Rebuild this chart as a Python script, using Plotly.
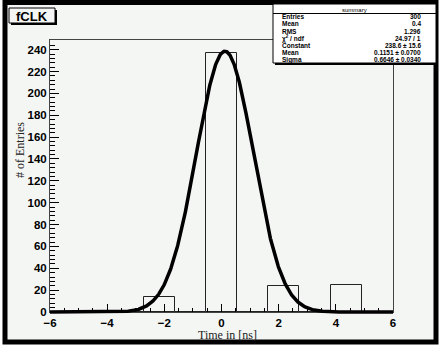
import numpy as np
import plotly.graph_objects as go

# ---- data ----
bin_edges_range = [-6.0, 6.0]
n_bins = 11
counts = [0, 0, 0, 14, 0, 237, 0, 24, 0, 25, 0]

# drawn gaussian curve (peak height, centre, width)
curve_peak = 238.6
curve_center = 0.12
curve_width = 1.0

stats_title = "summary"
stats_labels = ["Entries", "Mean", "RMS", "χ<sup>2</sup> / ndf", "Constant", "Mean", "Sigma"]
stats_values = ["300", "0.4", "1.296", "24.97 / 1", "238.6 ± 15.6", "0.1151 ± 0.0700", "0.6646 ± 0.0340"]

hist_title = "fCLK"
x_title = "Time in [ns]"
y_title = "# of Entries"
x_ticks = [-6, -4, -2, 0, 2, 4, 6]
y_ticks = [0, 20, 40, 60, 80, 100, 120, 140, 160, 180, 200, 220, 240]

# ---- layout geometry (pixels) ----
W, H = 443, 350
L, R, T, B = 50, 393, 40, 315   # plot area incl. 3px extension below axis
Y0 = 312                        # pixel of y = 0
ymax = 1.05 * max(counts)

def px(x):
    return (x - L) / (R - L)

def py(y):
    return (B - y) / (B - T)

edges = np.linspace(bin_edges_range[0], bin_edges_range[1], n_bins + 1)
centers = 0.5 * (edges[:-1] + edges[1:])
bw = edges[1] - edges[0]

xf = np.linspace(bin_edges_range[0], bin_edges_range[1], 801)
yf = curve_peak * np.exp(-0.5 * ((xf - curve_center) / curve_width) ** 2)

bg = "#f4f6f4"
fig = go.Figure()
fig.add_trace(go.Bar(x=centers, y=counts, width=bw,
                     marker=dict(color="rgba(0,0,0,0)", line=dict(color="#222", width=1)),
                     xaxis="x", yaxis="y", showlegend=False, hoverinfo="skip"))
fig.add_trace(go.Scatter(x=xf, y=yf, mode="lines", line=dict(color="black", width=3.5),
                         xaxis="x2", yaxis="y2", showlegend=False, hoverinfo="skip"))

yd0 = (B - Y0) / (B - T)

fig.update_layout(
    width=W, height=H,
    margin=dict(l=L, r=W - R, t=T, b=H - B, pad=0, autoexpand=False),
    paper_bgcolor="white", plot_bgcolor="rgba(0,0,0,0)",
    bargap=0, showlegend=False,
    xaxis=dict(range=bin_edges_range, domain=[0, 1], anchor="y", automargin=False,
               tickvals=x_ticks, ticks="inside", ticklen=8, tickcolor="black",
               showline=True, mirror=True, linecolor="#444", linewidth=1,
               showgrid=False, zeroline=False,
               tickfont=dict(family="Liberation Sans", size=11.5, color="black", weight="bold"),
               minor=dict(dtick=0.5, ticks="inside", ticklen=4, tickcolor="black", showgrid=False)),
    yaxis=dict(range=[0, ymax], domain=[yd0, 1], anchor="x", automargin=False,
               tickvals=y_ticks, ticks="inside", ticklen=9, tickcolor="black",
               showline=True, mirror=True, linecolor="#444", linewidth=1,
               showgrid=False, zeroline=False,
               tickfont=dict(family="Liberation Sans", size=11.5, color="black", weight="bold"),
               minor=dict(dtick=4, ticks="inside", ticklen=5, tickcolor="black", showgrid=False)),
    xaxis2=dict(range=bin_edges_range, domain=[0, 1], anchor="y2", visible=False, automargin=False),
    yaxis2=dict(range=[-(B - Y0) / (Y0 - T) * ymax, ymax], domain=[0, 1], anchor="x2",
                visible=False, automargin=False),
)

shapes = []
# canvas background + thick border
shapes.append(dict(type="rect", xref="paper", yref="paper", layer="below",
                   x0=px(5), x1=px(436), y0=py(342), y1=py(2.5),
                   fillcolor=bg, line=dict(color="black", width=5)))
# title box shadow + box
shapes.append(dict(type="rect", xref="paper", yref="paper",
                   x0=px(11), x1=px(57), y0=py(25), y1=py(10),
                   fillcolor="black", line=dict(width=0)))
shapes.append(dict(type="rect", xref="paper", yref="paper",
                   x0=px(9), x1=px(55), y0=py(23), y1=py(8),
                   fillcolor=bg, line=dict(color="black", width=1)))
# stats box shadow + box
shapes.append(dict(type="rect", xref="paper", yref="paper",
                   x0=px(275), x1=px(438), y0=py(65), y1=py(5),
                   fillcolor="black", line=dict(width=0)))
shapes.append(dict(type="rect", xref="paper", yref="paper",
                   x0=px(273), x1=px(436), y0=py(63), y1=py(4),
                   fillcolor="white", line=dict(color="black", width=1)))
shapes.append(dict(type="line", xref="paper", yref="paper",
                   x0=px(273), x1=px(436), y0=py(13.5), y1=py(13.5),
                   line=dict(color="black", width=1)))
fig.update_layout(shapes=shapes)

ann = []
ann.append(dict(text=hist_title, x=px(32), y=py(16), xref="paper", yref="paper",
                showarrow=False, xanchor="center", yanchor="middle",
                font=dict(family="Liberation Sans", size=13, color="black", weight="bold")))
ann.append(dict(text=stats_title, x=px(354), y=py(9.5), xref="paper", yref="paper",
                showarrow=False, xanchor="center", yanchor="middle",
                font=dict(family="Liberation Sans", size=6, color="black")))
for i, (lab, val) in enumerate(zip(stats_labels, stats_values)):
    yy = 16.7 + i * 7.15
    ann.append(dict(text=lab, x=px(280), y=py(yy), xref="paper", yref="paper",
                    showarrow=False, xanchor="left", yanchor="middle",
                    font=dict(family="Liberation Sans", size=6.5, color="black", weight="bold")))
    ann.append(dict(text=val, x=px(423), y=py(yy), xref="paper", yref="paper",
                    showarrow=False, xanchor="right", yanchor="middle",
                    font=dict(family="Liberation Sans", size=6.5, color="black", weight="bold")))
ann.append(dict(text=x_title, x=px(227), y=py(334.5), xref="paper", yref="paper",
                showarrow=False, xanchor="center", yanchor="middle",
                font=dict(family="Liberation Serif", size=12, color="#222")))
ann.append(dict(text=y_title, x=px(20), y=py(150), xref="paper", yref="paper",
                showarrow=False, xanchor="center", yanchor="middle", textangle=-90,
                font=dict(family="Liberation Serif", size=12, color="#222")))
fig.update_layout(annotations=ann)

fig.write_html("out.html", config={"displayModeBar": False},
               post_script="document.body.style.margin='0px';")
